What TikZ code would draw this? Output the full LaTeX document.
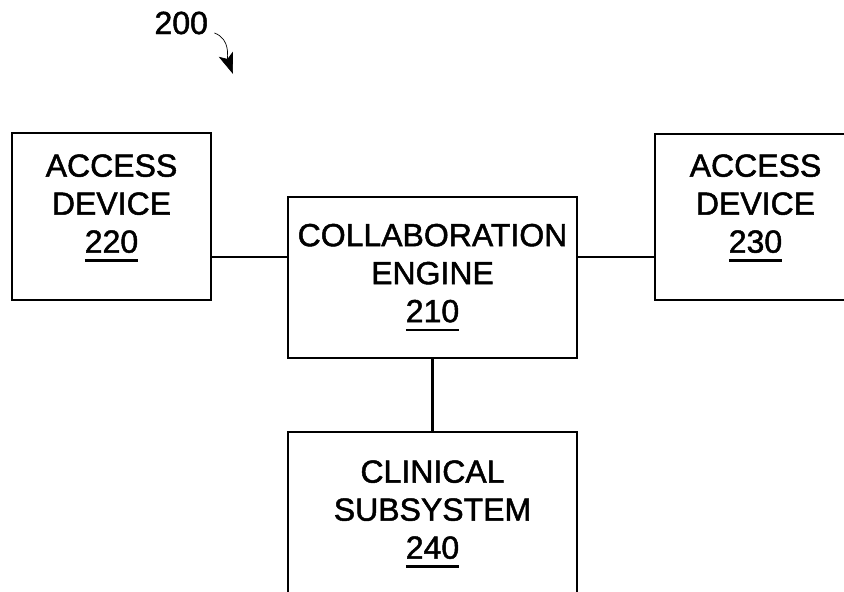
\documentclass[tikz,border=0pt]{standalone}
\usepackage{fontspec}
\setmainfont{Liberation Sans}[FakeBold=1.5]
\usepackage{tikz}
\usetikzlibrary{arrows.meta}

\newcommand{\refnum}[1]{\leavevmode\setbox0\hbox{#1}\rlap{\rule[-9pt]{\wd0}{2.6pt}}\box0}

\tikzset{
  blockbox/.style={draw, line width=2.4pt, rectangle, inner sep=0pt},
  blocktext/.style={align=center, font=\fontsize{32}{38}\selectfont},
  link/.style={line width=2.2pt},
}

\begin{document}
\begin{tikzpicture}[x=1pt,y=1pt]
  % Frame
  \useasboundingbox (0,0) rectangle (844,-592);
  \clip (0,0) rectangle (844,-592);

  % Reference number
  \node[anchor=base west, font=\fontsize{32}{38}\selectfont] (n200) at (151,-34) {200};
  \coordinate (tail) at ([shift={(3pt,1pt)}]n200.base east);
  \coordinate (tip) at (233,-74);
  \draw[line width=0.7pt, -{Stealth[length=21pt,width=15pt,inset=5pt]}] (tail) to[out=-20,in=110] (tip);

  % Boxes
  \node[blockbox, minimum width=199pt, minimum height=167pt] (a220) at (111.5,-216.5) {};
  \node[blocktext] (t220) at (111.5,-208) {ACCESS\\DEVICE\\\refnum{220}};

  \node[blockbox, blocktext, minimum width=289pt, minimum height=161pt] (e210) at (432.5,-277.5)
       {COLLABORATION\\ENGINE\\\refnum{210}};

  \node[blockbox, minimum width=201pt, minimum height=166pt] (a230) at (755.5,-217) {};
  \node[blocktext] (t230) at (755.5,-208) {ACCESS\\DEVICE\\\refnum{230}};

  \node[blockbox, blocktext, minimum width=289pt, minimum height=164pt] (c240) at (432.5,-514)
       {CLINICAL\\SUBSYSTEM\\\refnum{240}};

  % Connectors
  \coordinate (j220) at ([yshift=-40.5pt]a220.east);
  \coordinate (j230) at ([yshift=-40pt]a230.west);
  \draw[link] (j220) -- (j220 -| e210.west);
  \draw[link] (j230) -- (j230 -| e210.east);
  \draw[link] (e210.south) -- (c240.north);
\end{tikzpicture}
\end{document}
